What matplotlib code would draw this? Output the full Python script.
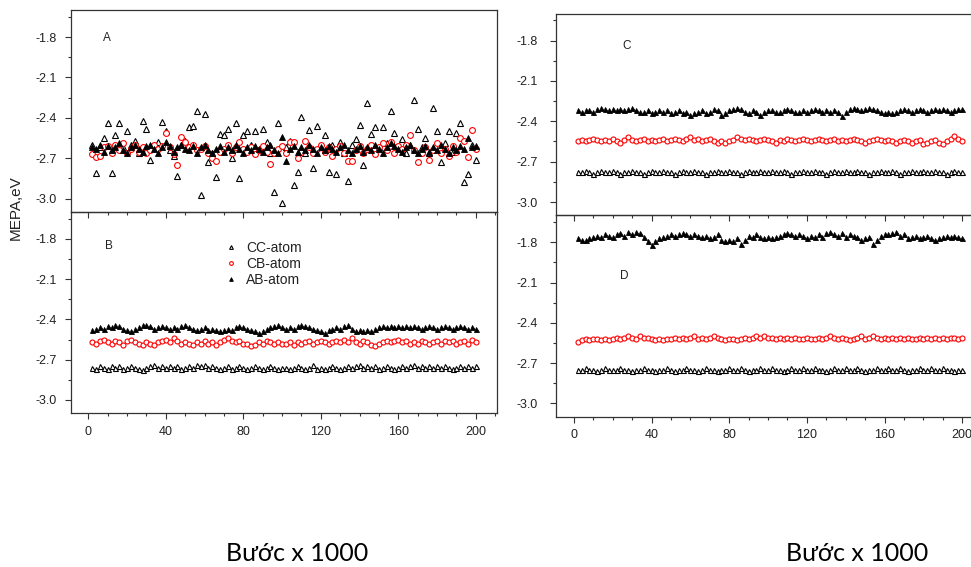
import numpy as np
import matplotlib
matplotlib.use('Agg')
from matplotlib import pyplot as plt
from matplotlib.ticker import MultipleLocator

plt.rcParams['font.family'] = ['Liberation Sans', 'DejaVu Sans']
plt.rcParams['axes.unicode_minus'] = False

# step index (x 1000), every second step
steps = np.arange(2, 201, 2)

# panel A
cc_a = [-2.60, -2.81, -2.62, -2.55, -2.44, -2.81, -2.53, -2.44, -2.62, -2.50,
        -2.60, -2.57, -2.66, -2.42, -2.48, -2.71, -2.60, -2.58, -2.43, -2.50,
        -2.64, -2.68, -2.83, -2.60, -2.57, -2.47, -2.46, -2.35, -2.97, -2.37,
        -2.73, -2.66, -2.84, -2.52, -2.53, -2.48, -2.70, -2.44, -2.85, -2.53,
        -2.50, -2.60, -2.50, -2.64, -2.48, -2.58, -2.66, -2.95, -2.44, -3.03,
        -2.62, -2.57, -2.90, -2.80, -2.39, -2.66, -2.49, -2.77, -2.46, -2.62,
        -2.53, -2.80, -2.60, -2.82, -2.58, -2.66, -2.87, -2.60, -2.56, -2.45,
        -2.75, -2.29, -2.52, -2.47, -2.62, -2.47, -2.59, -2.35, -2.51, -2.62,
        -2.56, -2.66, -2.60, -2.27, -2.48, -2.62, -2.55, -2.66, -2.33, -2.50,
        -2.73, -2.59, -2.50, -2.65, -2.51, -2.44, -2.88, -2.82, -2.60, -2.71]
cb_a = [-2.67, -2.69, -2.68, -2.62, -2.61, -2.66, -2.60, -2.64, -2.59, -2.66,
        -2.63, -2.60, -2.65, -2.62, -2.66, -2.64, -2.60, -2.63, -2.61, -2.51,
        -2.62, -2.67, -2.75, -2.54, -2.58, -2.62, -2.60, -2.64, -2.63, -2.61,
        -2.66, -2.70, -2.72, -2.65, -2.63, -2.60, -2.66, -2.62, -2.58, -2.63,
        -2.65, -2.62, -2.67, -2.64, -2.61, -2.65, -2.74, -2.66, -2.63, -2.61,
        -2.66, -2.58, -2.58, -2.70, -2.65, -2.57, -2.62, -2.66, -2.63, -2.60,
        -2.65, -2.62, -2.68, -2.63, -2.61, -2.66, -2.72, -2.72, -2.64, -2.61,
        -2.66, -2.63, -2.60, -2.67, -2.62, -2.59, -2.64, -2.58, -2.66, -2.61,
        -2.63, -2.60, -2.53, -2.64, -2.73, -2.66, -2.62, -2.71, -2.64, -2.59,
        -2.66, -2.63, -2.68, -2.61, -2.65, -2.55, -2.57, -2.69, -2.49, -2.63]
ab_a = [-2.62, -2.63, -2.60, -2.65, -2.61, -2.64, -2.62, -2.59, -2.64, -2.66,
        -2.62, -2.60, -2.63, -2.65, -2.61, -2.60, -2.63, -2.66, -2.62, -2.58,
        -2.61, -2.65, -2.62, -2.60, -2.63, -2.64, -2.61, -2.66, -2.62, -2.60,
        -2.64, -2.66, -2.63, -2.61, -2.65, -2.62, -2.64, -2.60, -2.63, -2.66,
        -2.62, -2.64, -2.61, -2.63, -2.65, -2.62, -2.60, -2.64, -2.66, -2.54,
        -2.72, -2.63, -2.61, -2.65, -2.62, -2.64, -2.60, -2.63, -2.66, -2.62,
        -2.64, -2.61, -2.63, -2.65, -2.62, -2.60, -2.64, -2.66, -2.63, -2.61,
        -2.65, -2.62, -2.64, -2.60, -2.63, -2.66, -2.62, -2.59, -2.61, -2.63,
        -2.65, -2.62, -2.60, -2.64, -2.66, -2.63, -2.61, -2.65, -2.62, -2.64,
        -2.60, -2.63, -2.66, -2.62, -2.64, -2.61, -2.63, -2.55, -2.62, -2.61]

# panel B
cc_b = [-2.76, -2.77, -2.75, -2.76, -2.77, -2.75, -2.76, -2.75, -2.77, -2.76,
        -2.75, -2.76, -2.77, -2.78, -2.76, -2.75, -2.74, -2.76, -2.75, -2.76,
        -2.75, -2.76, -2.75, -2.77, -2.76, -2.75, -2.76, -2.74, -2.75, -2.74,
        -2.76, -2.75, -2.76, -2.77, -2.76, -2.75, -2.77, -2.76, -2.75, -2.76,
        -2.77, -2.76, -2.75, -2.76, -2.77, -2.76, -2.75, -2.76, -2.77, -2.76,
        -2.76, -2.77, -2.76, -2.75, -2.76, -2.77, -2.76, -2.74, -2.77, -2.76,
        -2.77, -2.76, -2.75, -2.76, -2.77, -2.76, -2.75, -2.76, -2.75, -2.74,
        -2.76, -2.75, -2.76, -2.75, -2.77, -2.76, -2.75, -2.76, -2.77, -2.76,
        -2.75, -2.76, -2.75, -2.74, -2.76, -2.75, -2.76, -2.75, -2.76, -2.75,
        -2.76, -2.75, -2.76, -2.77, -2.76, -2.75, -2.76, -2.75, -2.76, -2.75]
cb_b = [-2.57, -2.58, -2.56, -2.55, -2.57, -2.58, -2.56, -2.57, -2.59, -2.56,
        -2.55, -2.57, -2.58, -2.59, -2.57, -2.58, -2.59, -2.57, -2.56, -2.55,
        -2.57, -2.54, -2.56, -2.58, -2.57, -2.58, -2.59, -2.57, -2.58, -2.56,
        -2.58, -2.57, -2.59, -2.57, -2.55, -2.54, -2.56, -2.57, -2.56, -2.58,
        -2.58, -2.60, -2.59, -2.57, -2.58, -2.56, -2.57, -2.58, -2.57, -2.58,
        -2.58, -2.57, -2.59, -2.57, -2.58, -2.57, -2.56, -2.58, -2.57, -2.56,
        -2.57, -2.58, -2.57, -2.56, -2.57, -2.55, -2.57, -2.54, -2.57, -2.58,
        -2.56, -2.57, -2.59, -2.60, -2.58, -2.57, -2.56, -2.57, -2.56, -2.55,
        -2.57, -2.56, -2.58, -2.57, -2.58, -2.56, -2.57, -2.58, -2.57, -2.56,
        -2.58, -2.56, -2.57, -2.56, -2.58, -2.57, -2.56, -2.58, -2.55, -2.57]
ab_b = [-2.48, -2.47, -2.46, -2.47, -2.45, -2.46, -2.44, -2.45, -2.47, -2.48,
        -2.49, -2.47, -2.46, -2.44, -2.44, -2.45, -2.47, -2.46, -2.45, -2.46,
        -2.47, -2.46, -2.47, -2.45, -2.44, -2.46, -2.47, -2.48, -2.47, -2.46,
        -2.48, -2.47, -2.48, -2.49, -2.48, -2.47, -2.48, -2.46, -2.45, -2.46,
        -2.47, -2.48, -2.49, -2.50, -2.49, -2.47, -2.46, -2.45, -2.44, -2.46,
        -2.47, -2.46, -2.47, -2.45, -2.44, -2.45, -2.46, -2.47, -2.48, -2.49,
        -2.50, -2.48, -2.47, -2.46, -2.47, -2.45, -2.44, -2.47, -2.49, -2.48,
        -2.49, -2.48, -2.49, -2.47, -2.46, -2.45, -2.46, -2.45, -2.46, -2.45,
        -2.46, -2.45, -2.46, -2.45, -2.46, -2.47, -2.46, -2.45, -2.46, -2.47,
        -2.46, -2.45, -2.46, -2.47, -2.46, -2.45, -2.46, -2.47, -2.46, -2.47]

# panel C
cc_c = [-2.78, -2.78, -2.77, -2.78, -2.79, -2.78, -2.77, -2.78, -2.78, -2.77,
        -2.78, -2.79, -2.78, -2.78, -2.77, -2.78, -2.78, -2.79, -2.78, -2.77,
        -2.78, -2.78, -2.77, -2.78, -2.78, -2.79, -2.78, -2.77, -2.78, -2.78,
        -2.77, -2.78, -2.78, -2.79, -2.78, -2.78, -2.77, -2.78, -2.78, -2.77,
        -2.78, -2.78, -2.79, -2.78, -2.77, -2.78, -2.78, -2.77, -2.78, -2.78,
        -2.77, -2.78, -2.78, -2.77, -2.78, -2.79, -2.78, -2.78, -2.77, -2.78,
        -2.78, -2.77, -2.78, -2.78, -2.79, -2.78, -2.77, -2.78, -2.78, -2.77,
        -2.78, -2.78, -2.77, -2.78, -2.78, -2.79, -2.78, -2.78, -2.77, -2.78,
        -2.78, -2.77, -2.78, -2.79, -2.78, -2.78, -2.77, -2.78, -2.78, -2.77,
        -2.78, -2.78, -2.77, -2.78, -2.78, -2.79, -2.78, -2.77, -2.78, -2.78]
cb_c = [-2.55, -2.54, -2.55, -2.54, -2.53, -2.54, -2.55, -2.54, -2.55, -2.53,
        -2.55, -2.56, -2.54, -2.52, -2.54, -2.55, -2.54, -2.53, -2.55, -2.54,
        -2.55, -2.54, -2.53, -2.55, -2.54, -2.53, -2.54, -2.55, -2.53, -2.52,
        -2.54, -2.53, -2.55, -2.54, -2.53, -2.55, -2.56, -2.55, -2.56, -2.55,
        -2.54, -2.52, -2.53, -2.54, -2.53, -2.54, -2.55, -2.54, -2.53, -2.54,
        -2.55, -2.56, -2.54, -2.55, -2.53, -2.54, -2.55, -2.54, -2.53, -2.54,
        -2.55, -2.54, -2.53, -2.54, -2.55, -2.54, -2.53, -2.55, -2.54, -2.55,
        -2.54, -2.53, -2.54, -2.55, -2.56, -2.55, -2.54, -2.53, -2.54, -2.55,
        -2.54, -2.55, -2.56, -2.55, -2.54, -2.55, -2.56, -2.55, -2.54, -2.57,
        -2.56, -2.55, -2.54, -2.56, -2.57, -2.55, -2.53, -2.51, -2.53, -2.55]
ab_c = [-2.32, -2.33, -2.32, -2.32, -2.33, -2.31, -2.30, -2.31, -2.32, -2.31,
        -2.32, -2.31, -2.32, -2.31, -2.30, -2.32, -2.33, -2.33, -2.32, -2.34,
        -2.33, -2.32, -2.33, -2.32, -2.34, -2.33, -2.32, -2.34, -2.33, -2.35,
        -2.34, -2.33, -2.32, -2.34, -2.33, -2.31, -2.32, -2.35, -2.34, -2.32,
        -2.31, -2.30, -2.31, -2.33, -2.34, -2.32, -2.33, -2.35, -2.33, -2.32,
        -2.32, -2.33, -2.33, -2.32, -2.31, -2.32, -2.33, -2.33, -2.32, -2.33,
        -2.32, -2.31, -2.32, -2.33, -2.32, -2.33, -2.32, -2.33, -2.36, -2.33,
        -2.31, -2.30, -2.31, -2.32, -2.31, -2.30, -2.31, -2.32, -2.33, -2.34,
        -2.33, -2.34, -2.33, -2.32, -2.31, -2.32, -2.33, -2.32, -2.31, -2.32,
        -2.33, -2.32, -2.31, -2.32, -2.31, -2.32, -2.33, -2.32, -2.31, -2.31]

# panel D
cc_d = [-2.75, -2.75, -2.74, -2.75, -2.75, -2.76, -2.75, -2.74, -2.75, -2.75,
        -2.75, -2.74, -2.75, -2.75, -2.76, -2.75, -2.75, -2.74, -2.75, -2.75,
        -2.76, -2.75, -2.75, -2.74, -2.75, -2.76, -2.75, -2.75, -2.74, -2.75,
        -2.75, -2.76, -2.75, -2.74, -2.75, -2.75, -2.76, -2.75, -2.75, -2.74,
        -2.75, -2.75, -2.74, -2.75, -2.76, -2.75, -2.75, -2.74, -2.75, -2.75,
        -2.74, -2.75, -2.75, -2.76, -2.75, -2.74, -2.75, -2.75, -2.74, -2.75,
        -2.75, -2.74, -2.75, -2.75, -2.76, -2.75, -2.74, -2.75, -2.75, -2.74,
        -2.75, -2.75, -2.74, -2.75, -2.76, -2.75, -2.75, -2.74, -2.75, -2.75,
        -2.74, -2.75, -2.75, -2.74, -2.75, -2.76, -2.75, -2.75, -2.74, -2.75,
        -2.75, -2.74, -2.75, -2.75, -2.74, -2.75, -2.75, -2.76, -2.75, -2.75]
cb_d = [-2.54, -2.53, -2.52, -2.53, -2.52, -2.52, -2.53, -2.52, -2.53, -2.52,
        -2.51, -2.52, -2.51, -2.50, -2.51, -2.52, -2.50, -2.51, -2.51, -2.52,
        -2.53, -2.52, -2.53, -2.52, -2.52, -2.51, -2.52, -2.51, -2.52, -2.51,
        -2.50, -2.52, -2.51, -2.52, -2.51, -2.50, -2.51, -2.52, -2.53, -2.52,
        -2.52, -2.53, -2.52, -2.51, -2.52, -2.51, -2.50, -2.51, -2.50, -2.51,
        -2.51, -2.52, -2.51, -2.52, -2.51, -2.52, -2.51, -2.52, -2.52, -2.51,
        -2.52, -2.52, -2.51, -2.52, -2.51, -2.50, -2.51, -2.52, -2.51, -2.52,
        -2.53, -2.52, -2.51, -2.50, -2.52, -2.51, -2.50, -2.51, -2.52, -2.51,
        -2.52, -2.51, -2.52, -2.51, -2.52, -2.51, -2.52, -2.52, -2.51, -2.52,
        -2.51, -2.52, -2.51, -2.52, -2.51, -2.52, -2.51, -2.51, -2.52, -2.51]
ab_d = [-1.77, -1.78, -1.78, -1.77, -1.76, -1.75, -1.76, -1.74, -1.75, -1.76,
        -1.74, -1.73, -1.75, -1.72, -1.74, -1.72, -1.73, -1.76, -1.79, -1.82,
        -1.79, -1.77, -1.76, -1.75, -1.74, -1.75, -1.74, -1.73, -1.74, -1.75,
        -1.74, -1.75, -1.76, -1.75, -1.77, -1.76, -1.74, -1.78, -1.79, -1.78,
        -1.79, -1.77, -1.81, -1.78, -1.75, -1.76, -1.74, -1.76, -1.77, -1.76,
        -1.77, -1.76, -1.75, -1.74, -1.73, -1.74, -1.75, -1.74, -1.75, -1.77,
        -1.75, -1.76, -1.74, -1.76, -1.73, -1.72, -1.74, -1.75, -1.73, -1.76,
        -1.74, -1.75, -1.76, -1.78, -1.77, -1.76, -1.81, -1.78, -1.75, -1.74,
        -1.74, -1.73, -1.72, -1.75, -1.74, -1.77, -1.76, -1.75, -1.77, -1.76,
        -1.75, -1.77, -1.78, -1.77, -1.76, -1.75, -1.76, -1.75, -1.76, -1.77]

y_ticks = [-1.8, -2.1, -2.4, -2.7, -3.0]
x_ticks = [0, 40, 80, 120, 160, 200]
TXT = '#222222'


def draw_panel(ax, cc, cb, ab, letter, letter_xy, ms, show_x, ypad):
    ax.plot(steps, cc, ls='none', marker='^', ms=ms, mfc='white', mec='black',
            mew=0.8, label='CC-atom')
    ax.plot(steps, cb, ls='none', marker='o', ms=ms, mfc='white', mec='red',
            mew=0.8, label='CB-atom')
    ax.plot(steps, ab, ls='none', marker='^', ms=ms, mfc='black', mec='black',
            mew=0.6, label='AB-atom')
    ax.set_xlim(-9, 211)
    ax.set_ylim(-3.1, -1.6)
    ax.set_yticks(y_ticks)
    ax.set_yticklabels([f'{v:.1f}' for v in y_ticks])
    ax.yaxis.set_minor_locator(MultipleLocator(0.15))
    ax.set_xticks(x_ticks)
    ax.xaxis.set_minor_locator(MultipleLocator(10))
    if not show_x:
        ax.set_xticklabels([])
    ax.tick_params(which='both', direction='out', colors='#333333',
                   labelcolor=TXT, labelsize=9, width=0.8)
    ax.tick_params(which='major', length=4.5)
    ax.tick_params(which='minor', length=2.5)
    ax.tick_params(axis='y', pad=ypad)
    ax.tick_params(axis='x', pad=4.5)
    for s in ax.spines.values():
        s.set_color('#333333')
        s.set_linewidth(0.9)
    ax.set_facecolor('none')
    ax.text(*letter_xy, letter, transform=ax.transAxes, fontsize=8.5,
            color=TXT, ha='left', va='center')


fig = plt.figure(figsize=(9.71, 5.67), dpi=100)

ax_a = fig.add_axes([0.073, 0.626, 0.439, 0.356])
ax_b = fig.add_axes([0.073, 0.271, 0.439, 0.355])
ax_c = fig.add_axes([0.573, 0.620, 0.440, 0.356])
ax_d = fig.add_axes([0.573, 0.265, 0.440, 0.355])

draw_panel(ax_a, cc_a, cb_a, ab_a, 'A', (0.075, 0.86), 4.2, False, 5.5)
draw_panel(ax_b, cc_b, cb_b, ab_b, 'B', (0.08, 0.83), 3.6, True, 5.5)
draw_panel(ax_c, cc_c, cb_c, ab_c, 'C', (0.155, 0.84), 3.6, False, 9)
draw_panel(ax_d, cc_d, cb_d, ab_d, 'D', (0.15, 0.70), 3.6, True, 9)

ax_b.legend(loc='upper left', bbox_to_anchor=(0.33, 0.92), frameon=False,
            fontsize=10, handlelength=1.0, handletextpad=0.6, labelspacing=0.15,
            markerscale=0.75, labelcolor=TXT)

fig.text(0.016, 0.634, 'MEPA,eV', rotation=90, ha='center', va='center',
         fontsize=11, color=TXT)

for xc in (0.306, 0.883):
    fig.text(xc, 0.024, 'Bước x 1000', ha='center', va='center',
             fontsize=18, family=['Lato', 'DejaVu Sans'], color='black')

fig.savefig('out.png', dpi=100)
